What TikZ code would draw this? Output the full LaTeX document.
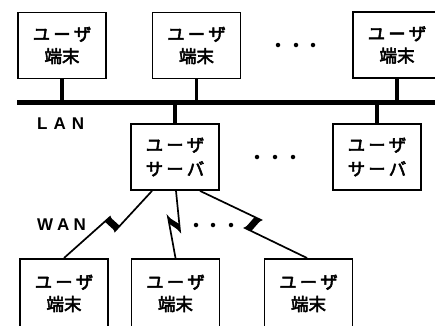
\documentclass[tikz,border=0pt]{standalone}
\usepackage{fontspec}
\newfontfamily\jp{Noto Sans CJK JP}[FakeBold=3]
\newfontfamily\lab{Liberation Sans}
\usetikzlibrary{calc}
\begin{document}
\begin{tikzpicture}[x=1pt,y=-1pt,
  box/.style={draw, line width=1.8pt, minimum width=88pt, minimum height=66pt, inner sep=0pt, align=center, font=\jp\fontsize{17.5}{22}\selectfont},
  srv/.style={box, font=\jp\fontsize{17.5}{24}\selectfont},
  stem/.style={line width=3.5pt},
  busline/.style={line width=5pt},
  wan/.style={line width=1.7pt, line join=miter, miter limit=10},
  dotm/.style={fill, circle, inner sep=0pt, minimum size=4.5pt},
  lbl/.style={font=\lab\bfseries\fontsize{17}{20}\selectfont, inner sep=0pt}]
\useasboundingbox (0,0) rectangle (435,325);
\fill[white] (0,0) rectangle (435,325);
\clip (0,0) rectangle (435,325);

% top terminals
\node[box] (t1) at (62,45.5) {ユ\kern3ptー\kern3ptザ\\端末};
\node[box] (t2) at (196.5,45.5) {ユ\kern3ptー\kern3ptザ\\端末};
\node[box] (t3) at (397,45) {ユ\kern3ptー\kern3ptザ\\端末};

% LAN bus
\coordinate (busL) at (17,102);
\coordinate (busR) at (440,102);
\draw[busline] (busL) -- (busR);

% servers
\node[srv] (s1) at (175,157) {ユ\kern3ptー\kern3ptザ\\サ\kern3ptー\kern3ptバ};
\node[srv] (s2) at (377,157) {ユ\kern3ptー\kern3ptザ\\サ\kern3ptー\kern3ptバ};

% stems
\draw[stem] (t1.south) -- (t1.south |- busL);
\draw[stem] (t2.south) -- (t2.south |- busL);
\draw[stem] (t3.south) -- (t3.south |- busL);
\draw[stem] (s1.north) -- (s1.north |- busL);
\draw[stem] (s2.north) -- (s2.north |- busL);

% bottom terminals
\node[box, minimum height=69pt, anchor=north] (b1) at (64,258) {ユ\kern3ptー\kern3ptザ\\端末};
\node[box, minimum height=69pt, anchor=north] (b2) at (175.5,258) {ユ\kern3ptー\kern3ptザ\\端末};
\node[box, minimum height=69pt, anchor=north] (b3) at (308.5,258) {ユ\kern3ptー\kern3ptザ\\端末};

% WAN links
\coordinate (w1s) at ($(s1.south)+(-23,0)$);
\coordinate (w1a) at (115,231);
\coordinate (w1b) at (110,217);
\draw[wan] (w1s) -- (w1a) -- (w1b) -- (b1.north);
\fill (w1b) -- (w1a) -- ($(w1a)!7pt!(w1s)$) -- cycle;
\fill (w1a) -- (w1b) -- ($(w1b)!7pt!(b1.north)$) -- cycle;

\coordinate (w2s) at ($(s1.south)+(1,0)$);
\coordinate (w2a) at (180,231);
\coordinate (w2b) at (168,217);
\draw[wan] (w2s) -- (w2a) -- (w2b) -- (b2.north);
\fill (w2b) -- (w2a) -- ($(w2a)!7pt!(w2s)$) -- cycle;
\fill (w2a) -- (w2b) -- ($(w2b)!7pt!(b2.north)$) -- cycle;

\coordinate (w3s) at ($(s1.south)+(25,0)$);
\coordinate (w3a) at (261,220);
\coordinate (w3b) at (245,228);
\coordinate (w3e) at ($(b3.north)+(-1.5,0)$);
\draw[wan] (w3s) -- (w3a) -- (w3b) -- (w3e);
\fill (w3b) -- (w3a) -- ($(w3a)!7pt!(w3s)$) -- cycle;
\fill (w3a) -- (w3b) -- ($(w3b)!7pt!(w3e)$) -- cycle;

% ellipsis dots
\node[dotm] (d1) at (278,45) {};
\node[dotm] (d2) at (296,45) {};
\node[dotm] (d3) at (313,45) {};
\node[dotm] (d4) at (257,157) {};
\node[dotm] (d5) at (275,157) {};
\node[dotm] (d6) at (293,157) {};
\node[dotm] (d7) at (196,225) {};
\node[dotm] (d8) at (213,225) {};
\node[dotm] (d9) at (231,225) {};

% labels
\node[lbl, anchor=west] (lan) at (37,124) {L\kern6pt A\kern6pt N};
\node[lbl, anchor=west] (wanl) at (37,225) {W\kern4pt A\kern4pt N};
\end{tikzpicture}
\end{document}
